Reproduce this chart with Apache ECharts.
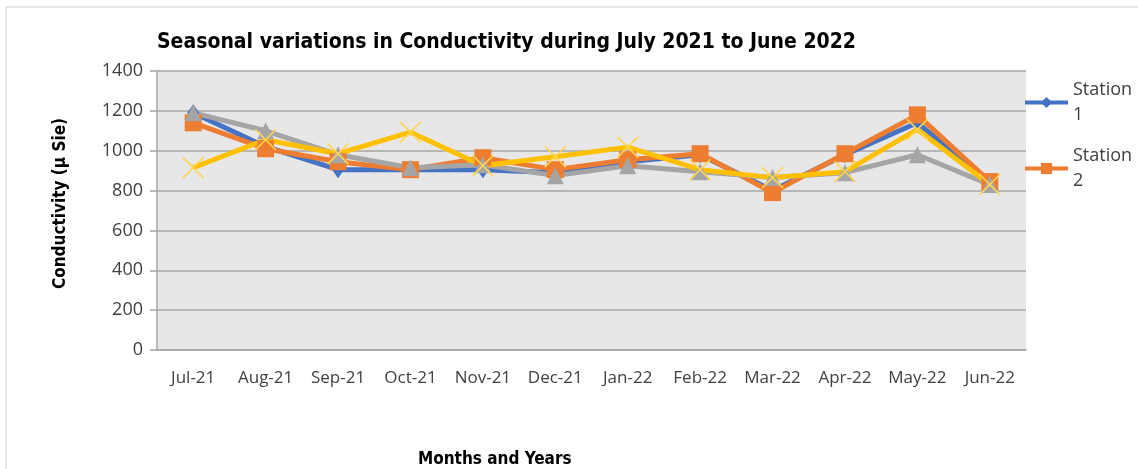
<!DOCTYPE html>
<html>
<head>
<meta charset="utf-8">
<script src="https://cdn.jsdelivr.net/npm/echarts@6/dist/echarts.min.js"></script>
<style>html,body{margin:0;padding:0;background:#fff}#c{width:1138px;height:469px}</style>
</head>
<body>
<div id="c"></div>
<script>
var categories = ['Jul-21','Aug-21','Sep-21','Oct-21','Nov-21','Dec-21','Jan-22','Feb-22','Mar-22','Apr-22','May-22','Jun-22'];
var station1 = [1190, 1020, 905, 905, 905, 890, 945, 980, 800, 980, 1140, 840];
var station2 = [1140, 1010, 945, 905, 965, 905, 955, 985, 790, 985, 1180, 845];
var station3 = [1190, 1100, 980, 915, 930, 875, 925, 895, 865, 890, 980, 830];
var station4 = [915, 1055, 985, 1093, 925, 970, 1018, 905, 865, 895, 1107, 830];
var yTicks = [0, 200, 400, 600, 800, 1000, 1200, 1400];

var xPath = 'path://M0,1 L1,0 L10,9 L19,0 L20,1 L11,10 L20,19 L19,20 L10,11 L1,20 L0,19 L9,10 Z';
var condensed = '"DejaVu Sans Condensed", "Liberation Sans", sans-serif';

function mk(name, data, color, symbol, size, extra) {
  return Object.assign({
    name: name, type: 'line', data: data,
    symbol: symbol, symbolSize: size,
    lineStyle: {color: color, width: 5},
    itemStyle: {color: color},
    emphasis: {disabled: true},
    animation: false
  }, extra || {});
}

var chart = echarts.init(document.getElementById('c'));
chart.setOption({
  animation: false,
  graphic: [{
    type: 'rect', shape: {x: 6, y: 7, width: 1200, height: 600},
    style: {fill: 'none', stroke: '#d0d0d0', lineWidth: 1}, silent: true, z: -10
  }],
  title: [{
    text: 'Seasonal variations in Conductivity during July 2021 to June 2022',
    left: 152, top: 27,
    textStyle: {fontFamily: condensed, fontWeight: 'bold', fontSize: 21, color: '#000'}
  }, {
    text: 'Months and Years',
    left: 413, top: 446,
    textStyle: {fontFamily: condensed, fontWeight: 'bold', fontSize: 17, color: '#000'}
  }],
  legend: {
    orient: 'vertical', left: 1018, top: 60,
    data: ['Station 1', 'Station 2'],
    itemWidth: 43, itemHeight: 14, itemGap: -9,
    formatter: function (n) { return n.replace(' ', '\n'); },
    lineStyle: {width: 4},
    textStyle: {fontFamily: 'Open Sans', fontSize: 18, color: '#404040', lineHeight: 25, padding: [25, 0, 0, 0]}
  },
  grid: {left: 157, right: 112, top: 71, bottom: 119, show: true, backgroundColor: '#e7e7e7', borderWidth: 0},
  xAxis: {
    type: 'category', data: categories, boundaryGap: true,
    axisLine: {lineStyle: {color: '#a6a6a6', width: 1.5}},
    axisTick: {show: false},
    axisLabel: {fontFamily: 'Open Sans', fontSize: 17, color: '#404040', margin: 20, interval: 0}
  },
  yAxis: {
    type: 'value', min: yTicks[0], max: yTicks[yTicks.length - 1], interval: 200,
    name: 'Conductivity (µ Sie)', nameLocation: 'middle', nameGap: 88,
    nameTextStyle: {fontFamily: condensed, fontWeight: 'bold', fontSize: 17, color: '#000', padding: [0, 0, 0, 14]},
    axisLine: {show: true, lineStyle: {color: '#a6a6a6', width: 1.5}},
    axisTick: {show: true, length: 7, lineStyle: {color: '#a6a6a6', width: 1.5}},
    splitLine: {lineStyle: {color: '#a6a6a6', width: 1.5}},
    axisLabel: {fontFamily: 'Open Sans', fontSize: 18, color: '#404040', margin: 14,
      formatter: function (v) { return String(v); }}
  },
  series: [
    mk('Station 1', station1, '#4472C4', 'diamond', [12, 17]),
    mk('Station 2', station2, '#ED7D31', 'rect', 17),
    mk('Station 3', station3, '#A5A5A5', 'triangle', 17),
    mk('Station 4', station4, '#FFC000', xPath, 22, {itemStyle: {color: '#FFD54F'}})
  ]
});
</script>
</body>
</html>
